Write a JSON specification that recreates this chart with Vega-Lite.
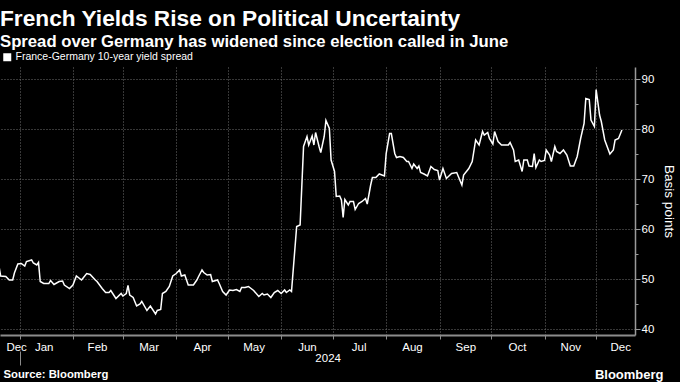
{
  "$schema": "https://vega.github.io/schema/vega-lite/v6.json",
  "width": 635,
  "height": 268,
  "autosize": {"type": "none"},
  "padding": {"left": 0, "top": 67, "right": 45, "bottom": 47},
  "background": "#000000",
  "config": {
    "font": "Liberation Sans",
    "view": {"stroke": null},
    "axis": {"labelFont": "Liberation Sans", "titleFont": "Liberation Sans", "labelColor": "#ffffff", "titleColor": "#ffffff"}
  },
  "title": {
    "text": "French Yields Rise on Political Uncertainty",
    "subtitle": "Spread over Germany has widened since election called in June",
    "anchor": "start",
    "frame": "group",
    "font": "Liberation Sans",
    "fontSize": 22.7,
    "fontWeight": "bold",
    "color": "#ffffff",
    "subtitleFont": "Liberation Sans",
    "subtitleFontSize": 16.7,
    "subtitleFontWeight": "bold",
    "subtitleColor": "#ffffff",
    "subtitlePadding": 4,
    "offset": 1
  },
  "datasets": {
    "spread": [
      {"date": "2023-12-20", "v": 52.6},
      {"date": "2023-12-21", "v": 50.6},
      {"date": "2023-12-24", "v": 50.5},
      {"date": "2023-12-26", "v": 49.8},
      {"date": "2023-12-28", "v": 49.8},
      {"date": "2023-12-29", "v": 51.2},
      {"date": "2023-12-31", "v": 53.0},
      {"date": "2024-01-02", "v": 53.1},
      {"date": "2024-01-04", "v": 52.6},
      {"date": "2024-01-05", "v": 53.5},
      {"date": "2024-01-08", "v": 53.8},
      {"date": "2024-01-09", "v": 53.2},
      {"date": "2024-01-11", "v": 52.8},
      {"date": "2024-01-12", "v": 53.3},
      {"date": "2024-01-13", "v": 49.5},
      {"date": "2024-01-15", "v": 49.1},
      {"date": "2024-01-18", "v": 49.1},
      {"date": "2024-01-19", "v": 49.7},
      {"date": "2024-01-21", "v": 48.9},
      {"date": "2024-01-24", "v": 49.5},
      {"date": "2024-01-26", "v": 49.6},
      {"date": "2024-01-27", "v": 48.8},
      {"date": "2024-01-30", "v": 48.1},
      {"date": "2024-02-01", "v": 48.8},
      {"date": "2024-02-03", "v": 50.6},
      {"date": "2024-02-06", "v": 49.8},
      {"date": "2024-02-09", "v": 51.1},
      {"date": "2024-02-11", "v": 50.9},
      {"date": "2024-02-14", "v": 49.8},
      {"date": "2024-02-15", "v": 49.5},
      {"date": "2024-02-18", "v": 48.1},
      {"date": "2024-02-20", "v": 47.3},
      {"date": "2024-02-22", "v": 47.3},
      {"date": "2024-02-23", "v": 47.7},
      {"date": "2024-02-26", "v": 46.1},
      {"date": "2024-02-29", "v": 47.1},
      {"date": "2024-03-01", "v": 46.6},
      {"date": "2024-03-03", "v": 47.1},
      {"date": "2024-03-04", "v": 48.7},
      {"date": "2024-03-05", "v": 46.8},
      {"date": "2024-03-07", "v": 46.3},
      {"date": "2024-03-09", "v": 44.6},
      {"date": "2024-03-11", "v": 45.0},
      {"date": "2024-03-12", "v": 45.5},
      {"date": "2024-03-15", "v": 43.7},
      {"date": "2024-03-17", "v": 44.6},
      {"date": "2024-03-20", "v": 43.0},
      {"date": "2024-03-21", "v": 43.7},
      {"date": "2024-03-23", "v": 43.9},
      {"date": "2024-03-24", "v": 47.1},
      {"date": "2024-03-26", "v": 47.5},
      {"date": "2024-03-28", "v": 48.5},
      {"date": "2024-03-30", "v": 50.6},
      {"date": "2024-04-01", "v": 51.1},
      {"date": "2024-04-03", "v": 51.8},
      {"date": "2024-04-04", "v": 50.6},
      {"date": "2024-04-06", "v": 50.8},
      {"date": "2024-04-08", "v": 48.8},
      {"date": "2024-04-11", "v": 48.8},
      {"date": "2024-04-13", "v": 49.8},
      {"date": "2024-04-14", "v": 50.5},
      {"date": "2024-04-16", "v": 51.8},
      {"date": "2024-04-17", "v": 51.3},
      {"date": "2024-04-19", "v": 50.8},
      {"date": "2024-04-21", "v": 50.9},
      {"date": "2024-04-22", "v": 49.5},
      {"date": "2024-04-25", "v": 49.8},
      {"date": "2024-04-26", "v": 49.1},
      {"date": "2024-04-28", "v": 47.5},
      {"date": "2024-04-30", "v": 46.8},
      {"date": "2024-05-02", "v": 47.8},
      {"date": "2024-05-04", "v": 47.7},
      {"date": "2024-05-06", "v": 47.9},
      {"date": "2024-05-08", "v": 47.5},
      {"date": "2024-05-09", "v": 48.3},
      {"date": "2024-05-11", "v": 48.3},
      {"date": "2024-05-13", "v": 48.5},
      {"date": "2024-05-16", "v": 47.7},
      {"date": "2024-05-19", "v": 46.5},
      {"date": "2024-05-21", "v": 47.1},
      {"date": "2024-05-22", "v": 46.8},
      {"date": "2024-05-24", "v": 47.0},
      {"date": "2024-05-26", "v": 46.3},
      {"date": "2024-05-28", "v": 47.3},
      {"date": "2024-05-30", "v": 47.7},
      {"date": "2024-06-01", "v": 47.1},
      {"date": "2024-06-03", "v": 47.8},
      {"date": "2024-06-04", "v": 47.3},
      {"date": "2024-06-06", "v": 47.8},
      {"date": "2024-06-07", "v": 47.5},
      {"date": "2024-06-10", "v": 60.5},
      {"date": "2024-06-12", "v": 60.8},
      {"date": "2024-06-14", "v": 76.5},
      {"date": "2024-06-16", "v": 78.5},
      {"date": "2024-06-17", "v": 76.8},
      {"date": "2024-06-19", "v": 78.6},
      {"date": "2024-06-20", "v": 76.8},
      {"date": "2024-06-21", "v": 79.3},
      {"date": "2024-06-23", "v": 76.5},
      {"date": "2024-06-24", "v": 75.3},
      {"date": "2024-06-26", "v": 78.5},
      {"date": "2024-06-27", "v": 81.7},
      {"date": "2024-06-29", "v": 80.1},
      {"date": "2024-06-30", "v": 73.8},
      {"date": "2024-07-02", "v": 71.5},
      {"date": "2024-07-03", "v": 66.5},
      {"date": "2024-07-05", "v": 66.6},
      {"date": "2024-07-06", "v": 65.8},
      {"date": "2024-07-07", "v": 62.3},
      {"date": "2024-07-08", "v": 65.9},
      {"date": "2024-07-10", "v": 64.8},
      {"date": "2024-07-11", "v": 65.5},
      {"date": "2024-07-13", "v": 65.5},
      {"date": "2024-07-14", "v": 63.9},
      {"date": "2024-07-16", "v": 65.1},
      {"date": "2024-07-18", "v": 65.5},
      {"date": "2024-07-20", "v": 66.1},
      {"date": "2024-07-21", "v": 65.0},
      {"date": "2024-07-23", "v": 68.8},
      {"date": "2024-07-24", "v": 70.3},
      {"date": "2024-07-26", "v": 70.3},
      {"date": "2024-07-28", "v": 71.0},
      {"date": "2024-07-31", "v": 70.6},
      {"date": "2024-08-01", "v": 75.1},
      {"date": "2024-08-03", "v": 79.1},
      {"date": "2024-08-04", "v": 79.1},
      {"date": "2024-08-06", "v": 75.1},
      {"date": "2024-08-07", "v": 74.3},
      {"date": "2024-08-09", "v": 74.5},
      {"date": "2024-08-11", "v": 74.3},
      {"date": "2024-08-13", "v": 73.5},
      {"date": "2024-08-14", "v": 73.5},
      {"date": "2024-08-16", "v": 72.1},
      {"date": "2024-08-17", "v": 73.0},
      {"date": "2024-08-19", "v": 72.1},
      {"date": "2024-08-20", "v": 72.6},
      {"date": "2024-08-21", "v": 71.3},
      {"date": "2024-08-23", "v": 71.0},
      {"date": "2024-08-25", "v": 70.6},
      {"date": "2024-08-27", "v": 72.5},
      {"date": "2024-08-29", "v": 71.9},
      {"date": "2024-08-31", "v": 71.7},
      {"date": "2024-09-01", "v": 69.8},
      {"date": "2024-09-03", "v": 72.1},
      {"date": "2024-09-05", "v": 70.1},
      {"date": "2024-09-08", "v": 71.1},
      {"date": "2024-09-11", "v": 71.3},
      {"date": "2024-09-14", "v": 68.8},
      {"date": "2024-09-15", "v": 70.8},
      {"date": "2024-09-18", "v": 72.1},
      {"date": "2024-09-20", "v": 73.5},
      {"date": "2024-09-22", "v": 77.8},
      {"date": "2024-09-24", "v": 76.8},
      {"date": "2024-09-26", "v": 79.5},
      {"date": "2024-09-27", "v": 78.8},
      {"date": "2024-09-29", "v": 79.3},
      {"date": "2024-09-30", "v": 78.1},
      {"date": "2024-10-02", "v": 77.0},
      {"date": "2024-10-03", "v": 79.5},
      {"date": "2024-10-05", "v": 77.5},
      {"date": "2024-10-07", "v": 76.8},
      {"date": "2024-10-11", "v": 76.8},
      {"date": "2024-10-12", "v": 77.3},
      {"date": "2024-10-14", "v": 75.8},
      {"date": "2024-10-15", "v": 73.5},
      {"date": "2024-10-17", "v": 73.8},
      {"date": "2024-10-19", "v": 71.5},
      {"date": "2024-10-20", "v": 73.8},
      {"date": "2024-10-22", "v": 73.8},
      {"date": "2024-10-23", "v": 72.6},
      {"date": "2024-10-25", "v": 72.5},
      {"date": "2024-10-26", "v": 75.1},
      {"date": "2024-10-27", "v": 72.3},
      {"date": "2024-10-29", "v": 73.8},
      {"date": "2024-10-30", "v": 73.5},
      {"date": "2024-11-01", "v": 73.7},
      {"date": "2024-11-02", "v": 75.8},
      {"date": "2024-11-04", "v": 74.8},
      {"date": "2024-11-05", "v": 73.5},
      {"date": "2024-11-07", "v": 76.5},
      {"date": "2024-11-08", "v": 75.5},
      {"date": "2024-11-10", "v": 75.1},
      {"date": "2024-11-12", "v": 75.8},
      {"date": "2024-11-14", "v": 74.8},
      {"date": "2024-11-16", "v": 72.6},
      {"date": "2024-11-18", "v": 72.6},
      {"date": "2024-11-20", "v": 74.5},
      {"date": "2024-11-22", "v": 78.1},
      {"date": "2024-11-24", "v": 81.1},
      {"date": "2024-11-25", "v": 86.1},
      {"date": "2024-11-27", "v": 85.9},
      {"date": "2024-11-28", "v": 81.8},
      {"date": "2024-11-30", "v": 80.5},
      {"date": "2024-12-01", "v": 87.9},
      {"date": "2024-12-03", "v": 82.8},
      {"date": "2024-12-04", "v": 81.5},
      {"date": "2024-12-06", "v": 77.8},
      {"date": "2024-12-09", "v": 75.0},
      {"date": "2024-12-11", "v": 75.8},
      {"date": "2024-12-12", "v": 77.8},
      {"date": "2024-12-14", "v": 78.1},
      {"date": "2024-12-16", "v": 79.8}
    ]
  },
  "layer": [
    {
      "data": {"name": "spread"},
      "mark": {"type": "line", "strokeWidth": 1.5, "clip": true},
      "encoding": {
        "x": {
          "field": "date",
          "type": "temporal",
          "scale": {
            "type": "utc",
            "domain": [
              {"year": 2023, "month": 12, "date": 20, "hours": 15, "utc": true},
              {"year": 2024, "month": 12, "date": 23, "hours": 14, "utc": true}
            ]
          },
          "axis": {
            "orient": "bottom",
            "values": [
              {"year": 2024, "month": 1, "date": 1, "utc": true},
              {"year": 2024, "month": 2, "date": 1, "utc": true},
              {"year": 2024, "month": 3, "date": 1, "utc": true},
              {"year": 2024, "month": 4, "date": 1, "utc": true},
              {"year": 2024, "month": 5, "date": 1, "utc": true},
              {"year": 2024, "month": 6, "date": 1, "utc": true},
              {"year": 2024, "month": 7, "date": 1, "utc": true},
              {"year": 2024, "month": 8, "date": 1, "utc": true},
              {"year": 2024, "month": 9, "date": 1, "utc": true},
              {"year": 2024, "month": 10, "date": 1, "utc": true},
              {"year": 2024, "month": 11, "date": 1, "utc": true},
              {"year": 2024, "month": 12, "date": 1, "utc": true},
              {"year": 2023, "month": 12, "date": 30, "utc": true},
              {"year": 2024, "month": 1, "date": 15, "utc": true},
              {"year": 2024, "month": 2, "date": 15, "utc": true},
              {"year": 2024, "month": 3, "date": 16, "utc": true},
              {"year": 2024, "month": 4, "date": 16, "utc": true},
              {"year": 2024, "month": 5, "date": 16, "utc": true},
              {"year": 2024, "month": 6, "date": 16, "utc": true},
              {"year": 2024, "month": 7, "date": 16, "utc": true},
              {"year": 2024, "month": 8, "date": 16, "utc": true},
              {"year": 2024, "month": 9, "date": 16, "utc": true},
              {"year": 2024, "month": 10, "date": 16, "utc": true},
              {"year": 2024, "month": 11, "date": 16, "utc": true},
              {"year": 2024, "month": 12, "date": 15, "utc": true}
            ],
            "labelExpr": "utcdate(datum.value) == 1 ? '' : utcFormat(datum.value, '%b')",
            "tickOpacity": {"condition": {"test": "utcdate(datum.value) == 1", "value": 1}, "value": 0},
            "gridOpacity": {"condition": {"test": "utcdate(datum.value) == 1", "value": 1}, "value": 0},
            "grid": true,
            "gridColor": "#6e6e6e",
            "gridDash": [1, 2],
            "gridWidth": 1,
            "tickSize": 4,
            "tickColor": "#8c8c8c",
            "domainColor": "#8c8c8c",
            "domainWidth": 2,
            "labelFontSize": 11.5,
            "labelPadding": 2,
            "labelColor": "#ffffff",
            "labelFlush": false,
            "labelOverlap": false,
            "labelBound": false,
            "title": "Bloomberg",
            "titleX": 663,
            "titleY": 43,
            "titleAlign": "right",
            "titleBaseline": "alphabetic",
            "titleFontSize": 13,
            "titleFontWeight": "bold",
            "titleColor": "#ffffff"
          }
        },
        "y": {
          "field": "v",
          "type": "quantitative",
          "scale": {"domain": [38.8, 92.4], "nice": false, "zero": false},
          "axis": {
            "orient": "right",
            "values": [40, 45, 50, 55, 60, 65, 70, 75, 80, 85, 90],
            "labelExpr": "datum.value % 10 == 0 ? datum.label : ''",
            "tickSize": {"condition": {"test": "datum.value % 10 == 0", "value": 5}, "value": 3},
            "gridOpacity": {"condition": {"test": "datum.value % 10 == 0", "value": 1}, "value": 0},
            "grid": true,
            "gridColor": "#6e6e6e",
            "gridDash": [1, 2],
            "tickColor": "#9a9a9a",
            "domainColor": "#9a9a9a",
            "domainWidth": 1.5,
            "labelFontSize": 11.5,
            "labelPadding": 1,
            "labelColor": "#ffffff",
            "title": "Basis points",
            "titleFontSize": 13.5,
            "titleFontWeight": "normal",
            "titlePadding": 8,
            "titleAngle": 90,
            "titleColor": "#ffffff"
          }
        },
        "color": {
          "datum": "France-Germany 10-year yield spread",
          "type": "nominal",
          "scale": {"range": ["#ffffff"]},
          "legend": {
            "orient": "none",
            "legendX": 2,
            "legendY": -15,
            "title": null,
            "symbolType": "square",
            "symbolSize": 64,
            "symbolFillColor": "#ffffff",
            "symbolStrokeColor": "#ffffff",
            "symbolStrokeWidth": 0,
            "labelFontSize": 10.5,
            "labelColor": "#ffffff",
            "labelFont": "Liberation Sans",
            "labelOffset": 3,
            "labelLimit": 0,
            "padding": 0
          }
        }
      }
    },
    {
      "data": {"values": [{"date": "2024-01-01"}]},
      "mark": {"type": "rule", "opacity": 0},
      "encoding": {
        "x": {
          "field": "date",
          "type": "temporal",
          "scale": {
            "type": "utc",
            "domain": [
              {"year": 2023, "month": 12, "date": 20, "hours": 15, "utc": true},
              {"year": 2024, "month": 12, "date": 23, "hours": 14, "utc": true}
            ]
          },
          "axis": {
            "orient": "bottom",
            "offset": 16,
            "values": [
              {"year": 2024, "month": 1, "date": 1, "utc": true},
              {"year": 2024, "month": 6, "date": 28, "utc": true}
            ],
            "domain": false,
            "grid": false,
            "tickSize": 14,
            "tickColor": "#8c8c8c",
            "tickOpacity": {"condition": {"test": "utcmonth(datum.value) == 0", "value": 1}, "value": 0},
            "labelExpr": "utcmonth(datum.value) == 0 ? '' : utcFormat(datum.value, '%Y')",
            "labelPadding": -13,
            "labelFontSize": 11.5,
            "labelColor": "#ffffff",
            "labelFlush": false,
            "labelOverlap": false,
            "labelBound": false,
            "title": "Source: Bloomberg",
            "titleX": 3,
            "titleY": 26,
            "titleAlign": "left",
            "titleBaseline": "alphabetic",
            "titleFontSize": 11.3,
            "titleFontWeight": "bold",
            "titleColor": "#ffffff"
          }
        }
      }
    }
  ],
  "resolve": {"axis": {"x": "independent"}}
}
